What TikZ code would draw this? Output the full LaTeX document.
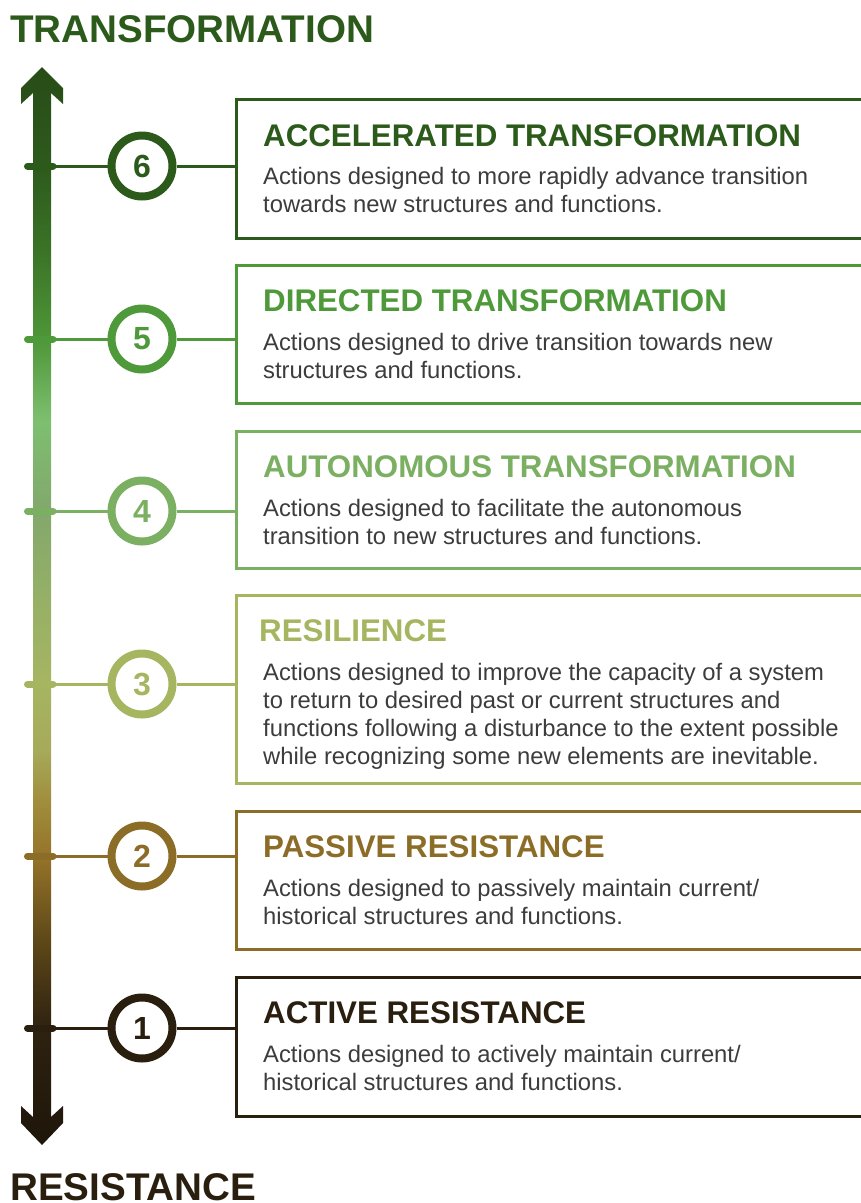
\documentclass[tikz,border=0pt]{standalone}
\usepackage{fontspec}
\setmainfont{Liberation Sans}
\definecolor{lvsix}{HTML}{2B5A1B}
\definecolor{lvfive}{HTML}{4E9A3A}
\definecolor{lvfour}{HTML}{7BAF62}
\definecolor{lvthree}{HTML}{A6B660}
\definecolor{lvtwo}{HTML}{8C6D28}
\definecolor{lvone}{HTML}{2A1E0E}
\definecolor{bodygray}{HTML}{3C3C3C}
\definecolor{ga}{HTML}{1E160A}
\definecolor{gb}{HTML}{2E2210}
\definecolor{gc}{HTML}{5E4818}
\definecolor{gd}{HTML}{95742A}
\definecolor{ge}{HTML}{A08E3E}
\definecolor{gf}{HTML}{A6AA5A}
\definecolor{gg}{HTML}{A6B562}
\definecolor{gh}{HTML}{96B066}
\definecolor{gi}{HTML}{82A86C}
\definecolor{gj}{HTML}{7DBF6F}
\definecolor{gk}{HTML}{4E9638}
\definecolor{gl}{HTML}{3A7326}
\definecolor{gm}{HTML}{2D5A1C}
\definecolor{gn}{HTML}{284C17}
\pgfdeclareverticalshading{axisgrad}{100bp}{color(0bp)=(ga); color(25bp)=(ga);
    color(30.4bp)=(gb); color(34.5bp)=(gc); color(38.4bp)=(gd); color(41bp)=(ge);
    color(43.3bp)=(gf); color(46.4bp)=(gg); color(50.3bp)=(gh); color(54.4bp)=(gi);
    color(58.6bp)=(gj); color(62.4bp)=(gk); color(66.5bp)=(gl); color(70.4bp)=(gm);
    color(75bp)=(gn); color(100bp)=(gn)}

\begin{document}
\begin{tikzpicture}[x=1pt, y=-1pt,
        every node/.style = {inner sep=0pt, text=bodygray},
        axislabel/.style = {anchor=base west, text=#1, font=\bfseries\fontsize{38.6}{38.6}\selectfont},
        stage/.style = {circle, draw=#1, fill=white, line width=8pt, minimum size=61pt,
            text=#1, font=\bfseries\fontsize{32}{32}\selectfont},
        stagebox/.style = {draw=#1, line width=3pt, minimum width=660pt, anchor=north west},
        stagetitle/.style = {anchor=base west, text=#1, font=\bfseries\fontsize{31.3}{31.3}\selectfont},
        stagetext/.style = {anchor=north west, align=left, font=\fontsize{23.8}{28}\selectfont},
        notch/.style = {draw=#1, line width=7pt, line cap=round},
        link/.style = {draw=#1, line width=3pt}]
    \useasboundingbox (0,0) rectangle (861,1203);

    \node[axislabel=lvsix] (toplabel) at (10,42) {TRANSFORMATION};
    \node[axislabel=lvone] (bottomlabel) at (10,1200) {RESISTANCE};

    \shade[shading=axisgrad] (42,67) -- (63,88) -- (63,104) -- (51,93) -- (51,1117)
        -- (63,1106) -- (63,1123) -- (42,1145) -- (21,1123) -- (21,1106) -- (33,1117)
        -- (33,93) -- (21,104) -- (21,88) -- cycle;

    \node[stagebox=lvsix, minimum height=139pt] (b6) at (235,98) {};
    \node[stagetitle=lvsix] (h6) at (263,146) {ACCELERATED TRANSFORMATION};
    \node[stagetext] (d6) at (263,167) {Actions designed to more rapidly advance transition\\
        towards new structures and functions.};

    \node[stagebox=lvfive, minimum height=138pt] (b5) at (235,264) {};
    \node[stagetitle=lvfive] (h5) at (263,311) {DIRECTED TRANSFORMATION};
    \node[stagetext] (d5) at (263,333) {Actions designed to drive transition towards new\\
        structures and functions.};

    \node[stagebox=lvfour, minimum height=137pt] (b4) at (235,430) {};
    \node[stagetitle=lvfour] (h4) at (263,477) {AUTONOMOUS TRANSFORMATION};
    \node[stagetext] (d4) at (263,499) {Actions designed to facilitate the autonomous\\
        transition to new structures and functions.};

    \node[stagebox=lvthree, minimum height=188pt] (b3) at (235,594) {};
    \node[stagetitle=lvthree] (h3) at (259,641) {RESILIENCE};
    \node[stagetext] (d3) at (263,663) {Actions designed to improve the capacity of a system\\
        to return to desired past or current structures and\\
        functions following a disturbance to the extent possible\\
        while recognizing some new elements are inevitable.};

    \node[stagebox=lvtwo, minimum height=138pt] (b2) at (235,810) {};
    \node[stagetitle=lvtwo] (h2) at (263,857) {PASSIVE RESISTANCE};
    \node[stagetext] (d2) at (263,879) {Actions designed to passively maintain current/\\
        historical structures and functions.};

    \node[stagebox=lvone, minimum height=139pt] (b1) at (235,976) {};
    \node[stagetitle=lvone] (h1) at (263,1023) {ACTIVE RESISTANCE};
    \node[stagetext] (d1) at (263,1045) {Actions designed to actively maintain current/\\
        historical structures and functions.};

    \foreach \n/\y/\c in {6/166/lvsix, 5/339/lvfive, 4/511/lvfour,
                          3/684/lvthree, 2/856/lvtwo, 1/1028/lvone}{
        \coordinate (t\n) at (53,\y);
        \node[stage=\c] (c\n) at (142,\y) {\n};
        \draw[notch=\c] (27.5,\y) -- (t\n);
        \draw[link=\c] (t\n) -- (c\n);
        \draw[link=\c] (c\n) -- (c\n -| b\n.west);
    }
\end{tikzpicture}
\end{document}
